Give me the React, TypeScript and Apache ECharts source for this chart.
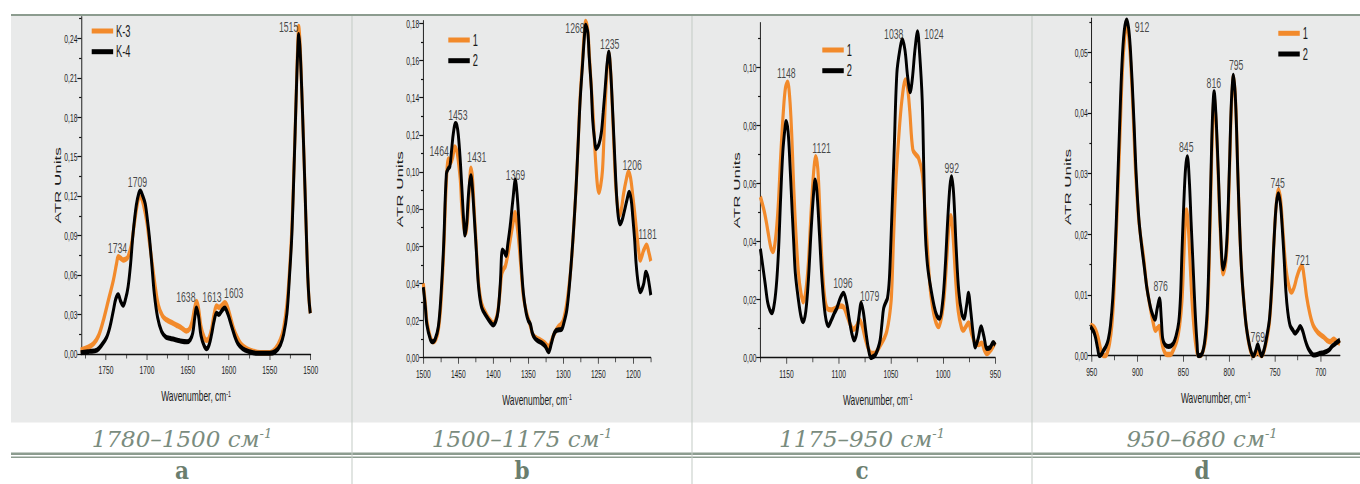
import React, { useEffect, useRef } from 'react';
import * as echarts from 'echarts';

// ---------------- data ----------------
// panel a (1780–1500 cm-1): [wavenumber, ATR units]
const aK3: number[][] = [
  [1781,0.003],[1772,0.005],[1765,0.008],[1759,0.014],[1753,0.026],[1747,0.041],[1741,0.056],[1737,0.069],[1735,0.074],[1732,0.0728],[1729,0.0715],[1726,0.072],[1723,0.074],[1719,0.083],[1716,0.096],[1712,0.113],[1709,0.1195],[1707,0.119],[1704,0.113],[1700,0.1],[1697,0.085],[1694,0.071],[1690,0.052],[1686,0.037],[1681,0.029],[1676,0.026],[1670,0.024],[1664,0.022],[1658,0.02],[1652,0.0175],[1648,0.019],[1645,0.024],[1642,0.034],[1639.5,0.04],[1637,0.035],[1634,0.021],[1630,0.0125],[1627,0.0105],[1624,0.0125],[1621,0.019],[1618,0.03],[1615,0.0365],[1612,0.0355],[1608.5,0.037],[1605,0.039],[1602,0.0365],[1598,0.028],[1594,0.019],[1590,0.013],[1585,0.0075],[1578,0.004],[1570,0.002],[1562,0.001],[1550,0.001],[1543,0.004],[1537,0.011],[1533,0.02],[1529,0.038],[1526,0.062],[1523,0.096],[1520,0.15],[1518,0.19],[1516,0.232],[1514.6,0.249],[1513,0.236],[1511,0.202],[1509,0.165],[1507,0.126],[1505,0.085],[1503.5,0.058],[1502,0.041],[1500.5,0.031]
];
const aK4: number[][] = [
  [1781,0.001],[1770,0.002],[1761,0.003],[1755,0.007],[1749,0.013],[1745,0.021],[1741,0.033],[1738,0.042],[1735,0.045],[1732,0.04],[1729,0.037],[1726,0.042],[1723,0.051],[1720,0.068],[1717,0.091],[1713,0.113],[1710,0.122],[1708,0.124],[1705,0.12],[1702,0.114],[1699,0.1],[1697,0.089],[1694,0.068],[1691,0.046],[1687,0.028],[1682,0.017],[1677,0.013],[1672,0.012],[1666,0.011],[1660,0.01],[1651,0.0093],[1647,0.011],[1644,0.016],[1641.5,0.028],[1639.5,0.035],[1637,0.029],[1634,0.014],[1630,0.006],[1627,0.004],[1624,0.007],[1621,0.015],[1618,0.025],[1615,0.031],[1612,0.03],[1608.5,0.033],[1605,0.035],[1601.5,0.031],[1597,0.022],[1593,0.014],[1589,0.008],[1583,0.004],[1576,0.002],[1565,0.0005],[1550,0.0005],[1543,0.002],[1537,0.007],[1533,0.015],[1529,0.031],[1526,0.058],[1523,0.091],[1520,0.148],[1518,0.19],[1516,0.228],[1514.6,0.243],[1513,0.232],[1511,0.202],[1509,0.165],[1507,0.126],[1505,0.085],[1503.5,0.058],[1502,0.041],[1500.5,0.031]
];
// panel b (1500–1175 cm-1)
const b1: number[][] = [
  [1500,0.04],[1497,0.029],[1495,0.02],[1490,0.011],[1486,0.0086],[1482,0.01],[1478.5,0.015],[1475,0.028],[1471,0.056],[1467,0.095],[1464,0.107],[1461,0.105],[1458,0.108],[1455,0.1135],[1452,0.111],[1450,0.106],[1447,0.095],[1445,0.081],[1442,0.07],[1439.5,0.067],[1437,0.074],[1434.6,0.088],[1432,0.102],[1430,0.098],[1427.5,0.081],[1424,0.058],[1421,0.04],[1416.6,0.029],[1409.5,0.023],[1404,0.02],[1400,0.0185],[1397,0.02],[1394,0.024],[1391,0.033],[1388,0.045],[1385,0.048],[1383,0.049],[1379,0.056],[1376,0.063],[1372,0.072],[1369,0.078],[1366,0.071],[1363,0.06],[1360,0.046],[1357,0.033],[1353,0.025],[1350,0.021],[1347,0.017],[1343,0.012],[1338,0.0105],[1333,0.0095],[1327,0.008],[1321,0.006],[1317,0.009],[1314,0.012],[1310,0.015],[1307,0.0167],[1303,0.018],[1300,0.02],[1296,0.027],[1293,0.035],[1289,0.049],[1286,0.065],[1282,0.09],[1279,0.1135],[1276,0.14],[1272.5,0.16],[1270,0.175],[1268,0.181],[1265,0.176],[1263,0.164],[1260,0.146],[1257,0.128],[1255,0.113],[1253,0.101],[1251,0.092],[1249,0.089],[1246.5,0.093],[1244,0.101],[1242,0.118],[1240,0.137],[1237.5,0.155],[1235,0.164],[1232.5,0.155],[1230,0.135],[1227.5,0.112],[1225,0.092],[1222,0.08],[1219.6,0.0767],[1217,0.08],[1214,0.088],[1210,0.096],[1207,0.1],[1204,0.097],[1201,0.088],[1198,0.078],[1195,0.067],[1192.5,0.058],[1190,0.0525],[1187.5,0.055],[1185,0.058],[1181,0.0606],[1178,0.057],[1175,0.052]
];
const b2: number[][] = [
  [1500,0.038],[1497,0.027],[1495,0.018],[1490,0.01],[1487,0.0086],[1483,0.01],[1478.5,0.0167],[1475,0.032],[1471,0.06],[1467,0.099],[1464,0.102],[1462,0.103],[1459.5,0.112],[1457,0.121],[1454,0.126],[1452,0.125],[1450,0.12],[1447.5,0.108],[1445,0.092],[1442.5,0.075],[1440.5,0.066],[1438,0.072],[1436,0.085],[1434,0.094],[1432,0.098],[1430,0.092],[1427.5,0.0776],[1424,0.056],[1421,0.038],[1416.6,0.027],[1409.5,0.022],[1404,0.019],[1400,0.0176],[1396,0.02],[1393,0.0256],[1390,0.04],[1387,0.058],[1384.5,0.057],[1382,0.055],[1379,0.062],[1376,0.0705],[1372,0.085],[1368.5,0.0956],[1366,0.088],[1363,0.0705],[1360,0.05],[1357,0.0346],[1353,0.024],[1350,0.02],[1347,0.018],[1344,0.013],[1340.5,0.0104],[1336,0.009],[1331,0.008],[1326,0.0063],[1321,0.0032],[1317,0.0077],[1314,0.012],[1310.6,0.0145],[1306,0.015],[1302.6,0.0152],[1299,0.019],[1295,0.0256],[1291,0.04],[1286,0.065],[1282,0.09],[1279,0.1135],[1276,0.138],[1272.5,0.158],[1270,0.172],[1268,0.179],[1265,0.175],[1263,0.162],[1260,0.145],[1258,0.128],[1255.5,0.118],[1253,0.1126],[1249,0.115],[1245.7,0.121],[1243,0.132],[1240,0.146],[1237.5,0.158],[1235,0.1646],[1232.5,0.155],[1230,0.137],[1227,0.112],[1224,0.088],[1221.5,0.076],[1219,0.072],[1216,0.074],[1213,0.0785],[1209,0.085],[1206,0.089],[1203,0.085],[1200.8,0.076],[1198,0.063],[1196,0.0507],[1193,0.04],[1190,0.0355],[1187.5,0.037],[1185,0.04],[1182,0.046],[1179.5,0.044],[1177.5,0.04],[1175,0.0337]
];
// panel c (1175–950 cm-1)
const c1: number[][] = [
  [1175,0.0555],[1171,0.05],[1168,0.044],[1165,0.038],[1163,0.0366],[1160.5,0.041],[1158,0.052],[1155.5,0.07],[1153,0.085],[1151,0.093],[1149,0.095],[1147,0.09],[1145,0.077],[1143,0.058],[1141,0.043],[1138.5,0.029],[1136,0.022],[1134,0.0193],[1131.5,0.023],[1129,0.033],[1126.5,0.05],[1124,0.064],[1122,0.0693],[1120,0.065],[1118,0.05],[1116,0.033],[1113.5,0.021],[1111,0.017],[1107,0.0165],[1103,0.017],[1099,0.0178],[1095.5,0.0175],[1092,0.0145],[1089,0.0115],[1086,0.0098],[1083,0.0108],[1080,0.013],[1077.5,0.011],[1074.5,0.0065],[1071.5,0.003],[1068.5,0.0015],[1065.5,0.0015],[1062.5,0.0028],[1059,0.005],[1056,0.007],[1054,0.009],[1051.5,0.014],[1049.5,0.021],[1047.5,0.041],[1045,0.062],[1042.7,0.075],[1039.4,0.089],[1036,0.0958],[1034,0.093],[1032,0.0854],[1029,0.0717],[1026,0.07],[1023.5,0.0688],[1020,0.0636],[1017,0.0486],[1015.4,0.04],[1013.5,0.029],[1011.5,0.021],[1008,0.0135],[1004.4,0.0107],[1001.5,0.014],[999,0.021],[996.5,0.034],[994.5,0.045],[992.6,0.049],[990.5,0.042],[988,0.027],[985.5,0.016],[982.5,0.0105],[980.5,0.0095],[978.5,0.0105],[975.7,0.012],[972.5,0.008],[969.2,0.005],[966,0.0045],[963,0.005],[960.5,0.0027],[958,0.0014],[954,0.0028],[950,0.0054]
];
const c2: number[][] = [
  [1175,0.0375],[1172.5,0.031],[1170.5,0.0257],[1168,0.019],[1166,0.0165],[1164,0.0155],[1161.5,0.019],[1159.3,0.0268],[1157.5,0.038],[1155.5,0.056],[1153.5,0.071],[1151.5,0.079],[1150.4,0.0814],[1148.5,0.078],[1146.6,0.066],[1144.5,0.05],[1143,0.039],[1141.5,0.029],[1138.6,0.02],[1136,0.014],[1134,0.0124],[1131.5,0.016],[1129,0.027],[1126.4,0.044],[1124,0.057],[1122.6,0.0613],[1121,0.058],[1118.5,0.043],[1116,0.027],[1113,0.015],[1110,0.011],[1107,0.013],[1104,0.0155],[1101.8,0.017],[1098.5,0.0205],[1095.4,0.0222],[1092.5,0.019],[1090,0.0135],[1087.5,0.0085],[1085.3,0.0061],[1083,0.008],[1080.5,0.0145],[1078.5,0.0188],[1076.5,0.016],[1074,0.009],[1071.5,0.003],[1069.2,0],[1067,0.0004],[1065,0.0009],[1062.5,0.003],[1060.3,0.0061],[1058.5,0.012],[1057,0.017],[1055,0.019],[1053.3,0.0205],[1051.5,0.027],[1050,0.04],[1047,0.07],[1044.3,0.098],[1041.5,0.106],[1039,0.1096],[1036.5,0.106],[1034,0.097],[1031.5,0.0917],[1029.5,0.096],[1027,0.106],[1024.5,0.1124],[1022.5,0.105],[1020,0.0888],[1018.5,0.065],[1017,0.0429],[1015,0.032],[1012.5,0.0255],[1008.5,0.0176],[1006,0.0145],[1003.5,0.0136],[1000.5,0.019],[998,0.031],[995.5,0.048],[993.5,0.059],[992,0.0624],[990,0.057],[987.5,0.038],[985,0.023],[982,0.015],[980,0.0136],[977.5,0.018],[975.7,0.0222],[973.5,0.016],[971,0.0075],[969.2,0.0037],[966.5,0.0065],[963.5,0.0107],[961,0.0075],[958,0.0032],[955,0.0035],[952,0.0052],[950,0.0044]
];
// panel d (950–680 cm-1)
const d1: number[][] = [
  [951.5,0.005],[948,0.0048],[945.5,0.0042],[943,0.003],[940,0.001],[937,0],[935,0],[933,0.0005],[930.5,0.002],[928,0.005],[926,0.0095],[924,0.017],[921.5,0.0265],[919,0.037],[916.5,0.047],[914,0.0525],[912,0.0545],[909.5,0.0525],[907,0.047],[904.5,0.039],[902,0.03],[899,0.023],[896.5,0.0195],[893.6,0.0165],[890,0.0115],[886,0.0078],[883,0.0055],[880.5,0.0042],[878.5,0.0045],[876.5,0.0048],[874.5,0.0032],[872,0.0012],[868,0.0002],[864,0.0002],[861,0.0009],[857,0.0025],[854,0.005],[851.5,0.009],[849.5,0.016],[847.5,0.0235],[846.5,0.024],[844.5,0.021],[842.5,0.015],[840.5,0.009],[838,0.004],[835,0.0005],[832,0],[828,0.001],[825,0.0035],[823,0.009],[821.5,0.017],[819.5,0.03],[818,0.038],[816.4,0.0425],[814.5,0.039],[812,0.03],[809.5,0.02],[806.5,0.0135],[804,0.015],[802,0.019],[799.5,0.031],[797.5,0.041],[795.3,0.046],[793,0.042],[790.5,0.03],[788,0.019],[786,0.013],[784,0.009],[781,0.0045],[777,0.001],[773.5,0],[771,0.0003],[769.2,0.0008],[767,0.0003],[764.4,0],[761.5,0.001],[759,0.0026],[756,0.0055],[753.5,0.011],[751,0.019],[748.5,0.025],[746.2,0.0273],[744,0.026],[741.5,0.021],[739,0.016],[737,0.0133],[734,0.011],[731.7,0.0105],[729,0.0113],[726,0.013],[723,0.0143],[720.5,0.0147],[718,0.0128],[715.5,0.0098],[712,0.007],[708,0.0049],[703,0.0038],[697,0.0031],[693,0.0025],[689.8,0.0023],[686,0.0027],[683,0.0024],[679,0.002]
];
const d2: number[][] = [
  [951.5,0.0048],[948,0.004],[946,0.0031],[943.5,0.0012],[941.6,0],[939,0.0003],[937,0.0009],[934.5,0.0015],[932,0.0026],[929.5,0.005],[927,0.0095],[924.5,0.017],[922,0.027],[919.5,0.038],[917,0.048],[914.5,0.0535],[911.8,0.0553],[909,0.053],[906.5,0.047],[904,0.039],[901.5,0.03],[898.5,0.0225],[895.4,0.018],[892.5,0.0145],[890,0.0114],[887,0.0088],[884.5,0.0072],[881,0.006],[878.5,0.0078],[876,0.0094],[874,0.006],[872.5,0.0028],[870,0.0018],[866,0.0015],[861,0.002],[858,0.0032],[855,0.0055],[853,0.01],[851.5,0.017],[849.5,0.025],[847.5,0.031],[845.6,0.0328],[843.5,0.029],[841.5,0.022],[839.7,0.016],[837,0.007],[835,0.002],[833.5,0],[830,0.0002],[827,0.002],[824.5,0.0059],[823,0.011],[821.5,0.019],[819.5,0.032],[818,0.04],[816.4,0.0435],[814.5,0.04],[812,0.031],[809.5,0.021],[806.5,0.0143],[804,0.016],[802,0.0205],[799.5,0.032],[797.5,0.042],[795.3,0.0462],[793,0.042],[790.5,0.03],[788,0.019],[786,0.013],[784,0.009],[781,0.0045],[777,0.0012],[773.5,0],[771,0.0008],[768.8,0.0018],[766.5,0.0007],[764.4,0],[761.5,0.0012],[759,0.0031],[756,0.006],[753.5,0.0115],[751,0.019],[748.5,0.025],[746.2,0.0267],[744,0.025],[742,0.021],[740,0.016],[738,0.0105],[736,0.0072],[733.5,0.005],[730.5,0.0042],[728,0.0037],[725,0.0042],[722.6,0.0048],[720,0.0042],[717,0.0026],[714,0.0013],[711.6,0.0007],[708,0.0001],[704,0.0002],[700.7,0.0004],[697,0.0005],[693.4,0.0007],[690.5,0.001],[688,0.0015],[684,0.002],[679,0.0026]
];

// peak labels: [text, wavenumber of label centre, ATR value of label centre]
const aPeaks: [string, number, number][] = [['1734',1735.9,0.0804],['1709',1711.5,0.1304],['1638',1652.5,0.0436],['1613',1620.5,0.0436],['1603',1594,0.0462],['1515',1527,0.2489]];
const bPeaks: [string, number, number][] = [['1464',1477.3,0.1113],['1453',1450.7,0.1306],['1431',1423.6,0.1081],['1369',1368.3,0.0983],['1268',1283.3,0.1772],['1235',1233.7,0.1689],['1206',1201.6,0.1037],['1181',1179.7,0.0665]];
const cPeaks: [string, number, number][] = [['1148',1150.2,0.0982],['1121',1116.4,0.0724],['1096',1096,0.0257],['1079',1070.4,0.0212],['1038',1047.3,0.1114],['1024',1008.8,0.1114],['992',991.7,0.0653]];
const dPeaks: [string, number, number][] = [['912',895.1,0.0542],['876',874.7,0.0114],['845',846.8,0.0344],['816',816.7,0.045],['795',792.3,0.0479],['769',768.7,0.0031],['745',747,0.0285],['721',719.9,0.0158]];

// tick values
const aXMajor = [1500,1550,1600,1650,1700,1750];
const aXMinor = [1525,1575,1625,1675,1725,1775];
const bXMajor = [1200,1250,1300,1350,1400,1450,1500];
const bXMinor = [1175,1225,1275,1325,1375,1425,1475];
const cXMajor = [950,1000,1050,1100,1150];
const cXMinor = [975,1025,1075,1125,1175];
const dXMajor = [700,750,800,850,900,950];
const dXMinor = [725,775,825,875,925];
const aYMajor = [0,0.03,0.06,0.09,0.12,0.15,0.18,0.21,0.24];
const aYMinor = [0.015,0.045,0.075,0.105,0.135,0.165,0.195,0.225,0.255];
const bYMajor = [0,0.02,0.04,0.06,0.08,0.1,0.12,0.14,0.16,0.18];
const bYMinor = [0.01,0.03,0.05,0.07,0.09,0.11,0.13,0.15,0.17];
const cYMajor = [0,0.02,0.04,0.06,0.08,0.1];
const cYMinor = [0.01,0.03,0.05,0.07,0.09,0.11];
const dYMajor = [0,0.01,0.02,0.03,0.04,0.05];
const dYMinor = [0.005,0.015,0.025,0.035,0.045,0.055];

const captions = ['1780–1500', '1500–1175', '1175–950', '950–680'];
const letters = ['a', 'b', 'c', 'd'];

// ---------------- layout & style ----------------
const W = 1360;
const H = 484;
const S = 0.58; // horizontal compression of the plotted figures
const FONT = "'Liberation Sans', Arial, sans-serif";
const ORANGE = '#f28a2b';
const BLACK = '#000000';
const INK = '#1a1a1a';
const RULE = '#8c9c8f';
const CAP = '#7a8c7e';
const LET = '#6b7e6e';

const panels = [
  { L: 81.4, R: 310.7, T: 16.7, B: 354, xMin: 1500, xMax: 1780, yMax: 0.2565, xMajor: aXMajor, xMinor: aXMinor, yMajor: aYMajor, yMinor: aYMinor, s1: aK3, s2: aK4, n1: 'K-3', n2: 'K-4', peaks: aPeaks, lx: 91.7, ly: 31 },
  { L: 423.3, R: 650.8, T: 20.7, B: 357.7, xMin: 1175, xMax: 1500, yMax: 0.1814, xMajor: bXMajor, xMinor: bXMinor, yMajor: bYMajor, yMinor: bYMinor, s1: b1, s2: b2, n1: '1', n2: '2', peaks: bPeaks, lx: 448.3, ly: 40 },
  { L: 760.4, R: 995.3, T: 22.7, B: 357.7, xMin: 950, xMax: 1175, yMax: 0.1155, xMajor: cXMajor, xMinor: cXMinor, yMajor: cYMajor, yMinor: cYMinor, s1: c1, s2: c2, n1: '1', n2: '2', peaks: cPeaks, lx: 822.3, ly: 50 },
  { L: 1091.7, R: 1340, T: 18.3, B: 355.7, xMin: 679, xMax: 950, yMax: 0.0556, xMajor: dXMajor, xMinor: dXMinor, yMajor: dYMajor, yMinor: dYMinor, s1: d1, s2: d2, n1: '1', n2: '2', peaks: dPeaks, lx: 1278.3, ly: 33.3 },
];
const panelCenters = [182, 522, 862, 1202];

function chartOption(): any {
  const grid = panels.map((p) => ({
    left: p.L / S, top: p.T, width: (p.R - p.L) / S, height: p.B - p.T,
    containLabel: false, outerBoundsMode: 'none',
  }));
  const tickStyle = { color: '#111', width: 1.2 };
  const xAxis = panels.flatMap((p, i) => [
    {
      type: 'value', gridIndex: i, min: p.xMin, max: p.xMax, inverse: true, position: 'bottom',
      axisLine: { show: true, onZero: false, lineStyle: { color: '#111', width: 1.4 } },
      axisTick: { show: true, customValues: p.xMajor, length: 6, lineStyle: tickStyle },
      axisLabel: {
        show: true, customValues: p.xMajor, margin: 10, fontSize: 11.5, color: INK, fontFamily: FONT,
        formatter: (v: number) => String(Math.round(v)),
      },
      splitLine: { show: false },
      name: '{w|Wavenumber, cm}{s|-1}', nameLocation: 'middle', nameGap: 35,
      nameTextStyle: {
        rich: {
          w: { fontSize: 14.5, fontFamily: FONT, color: INK },
          s: { fontSize: 9, fontFamily: FONT, color: INK, verticalAlign: 'top' },
        },
      },
    },
    {
      type: 'value', gridIndex: i, min: p.xMin, max: p.xMax, inverse: true, position: 'bottom',
      axisLine: { show: false, onZero: false },
      axisTick: { show: true, customValues: p.xMinor, length: 4.5, lineStyle: tickStyle },
      axisLabel: { show: false }, splitLine: { show: false },
    },
  ]);
  const yAxis = panels.flatMap((p, i) => [
    {
      type: 'value', gridIndex: i, min: 0, max: p.yMax, position: 'left',
      axisLine: { show: true, onZero: false, lineStyle: { color: '#111', width: 1.6 } },
      axisTick: { show: true, customValues: p.yMajor, length: 7, lineStyle: tickStyle },
      axisLabel: {
        show: true, customValues: p.yMajor, margin: 7, fontSize: 11.5, color: INK, fontFamily: FONT,
        formatter: (v: number) => v.toFixed(2).replace('.', ','),
      },
      splitLine: { show: false },
      name: 'ATR Units', nameLocation: 'middle', nameGap: 31, nameRotate: 90,
      nameTextStyle: { fontSize: 17, fontFamily: FONT, color: INK },
    },
    {
      type: 'value', gridIndex: i, min: 0, max: p.yMax, position: 'left',
      axisLine: { show: false, onZero: false },
      axisTick: { show: true, customValues: p.yMinor, length: 4, lineStyle: tickStyle },
      axisLabel: { show: false }, splitLine: { show: false },
    },
  ]);
  const series = panels.flatMap((p, i) => [
    {
      type: 'line', name: p.n1, xAxisIndex: 2 * i, yAxisIndex: 2 * i, data: p.s1,
      showSymbol: false, symbol: 'none', smooth: 0.35, z: 2,
      lineStyle: { color: ORANGE, width: 5.4 }, itemStyle: { color: ORANGE },
    },
    {
      type: 'line', name: p.n2, xAxisIndex: 2 * i, yAxisIndex: 2 * i, data: p.s2,
      showSymbol: false, symbol: 'none', smooth: 0.35, z: 3,
      lineStyle: { color: BLACK, width: 5 }, itemStyle: { color: BLACK },
    },
    {
      type: 'scatter', xAxisIndex: 2 * i, yAxisIndex: 2 * i, silent: true, clip: false, z: 5,
      symbolSize: 1, itemStyle: { color: 'rgba(0,0,0,0)' },
      data: p.peaks.map((k) => ({ name: k[0], value: [k[1], k[2]] })),
      label: { show: true, position: 'inside', formatter: '{b}', fontSize: 15, color: INK, fontFamily: FONT },
    },
  ]);
  const legend = panels.map((p) => ({
    orient: 'vertical', left: p.lx / S, top: p.ly - 10, padding: 0, itemGap: 0.7,
    itemWidth: 37, itemHeight: 5, icon: 'rect', selectedMode: false,
    data: [p.n1, p.n2],
    textStyle: { fontSize: 16, fontFamily: FONT, color: INK, lineHeight: 20 },
  }));
  return { animation: false, grid, xAxis, yAxis, series, legend };
}

function baseOption(): any {
  const graphic: any[] = [
    { type: 'rect', shape: { x: 11, y: 16, width: W - 11, height: 406.5 }, style: { fill: '#e9eaea' }, silent: true },
    { type: 'rect', shape: { x: 11, y: 14, width: W - 11, height: 2 }, style: { fill: RULE }, silent: true },
    { type: 'rect', shape: { x: 11, y: 452.5, width: W - 11, height: 2.5 }, style: { fill: RULE }, silent: true },
    { type: 'rect', shape: { x: 11, y: 456.5, width: W - 11, height: 1.5 }, style: { fill: RULE }, silent: true },
  ];
  [352, 692, 1032].forEach((x) => {
    graphic.push({ type: 'line', shape: { x1: x, y1: 16, x2: x, y2: H }, style: { stroke: '#c3cbc5', lineWidth: 1 }, silent: true });
  });
  captions.forEach((c, i) => {
    graphic.push({
      type: 'text', x: panelCenters[i], y: 438.5, silent: true,
      style: {
        text: `{t|${c} см}{s|-1}`,
        align: 'center', verticalAlign: 'middle',
        rich: {
          t: { fontSize: 23, fontFamily: "'DejaVu Serif', serif", fontStyle: 'italic', fill: CAP },
          s: { fontSize: 13, fontFamily: "'DejaVu Serif', serif", fontStyle: 'italic', fill: CAP, verticalAlign: 'top' },
        },
      },
    });
  });
  letters.forEach((l, i) => {
    graphic.push({
      type: 'text', x: panelCenters[i], y: 483, scaleX: 0.9, silent: true,
      style: { text: l, fontSize: 24, fontFamily: "'DejaVu Serif', serif", fontWeight: 'bold', fill: LET, align: 'center', verticalAlign: 'bottom' },
    });
  });
  return { animation: false, graphic };
}

export default function App() {
  const baseRef = useRef<HTMLDivElement>(null);
  const plotRef = useRef<HTMLDivElement>(null);
  useEffect(() => {
    const base = echarts.init(baseRef.current!, undefined, { renderer: 'svg' });
    base.setOption(baseOption());
    const plot = echarts.init(plotRef.current!, undefined, { renderer: 'svg' });
    plot.setOption(chartOption());
    return () => {
      plot.dispose();
      base.dispose();
    };
  }, []);
  return (
    <div style={{ position: 'absolute', left: 0, top: 0, width: W, height: H, overflow: 'hidden', background: '#ffffff' }}>
      <div ref={baseRef} style={{ position: 'absolute', left: 0, top: 0, width: W, height: H }} />
      <div
        ref={plotRef}
        style={{ position: 'absolute', left: 0, top: 0, width: W / S, height: H, transform: `scaleX(${S})`, transformOrigin: '0 0' }}
      />
    </div>
  );
}
